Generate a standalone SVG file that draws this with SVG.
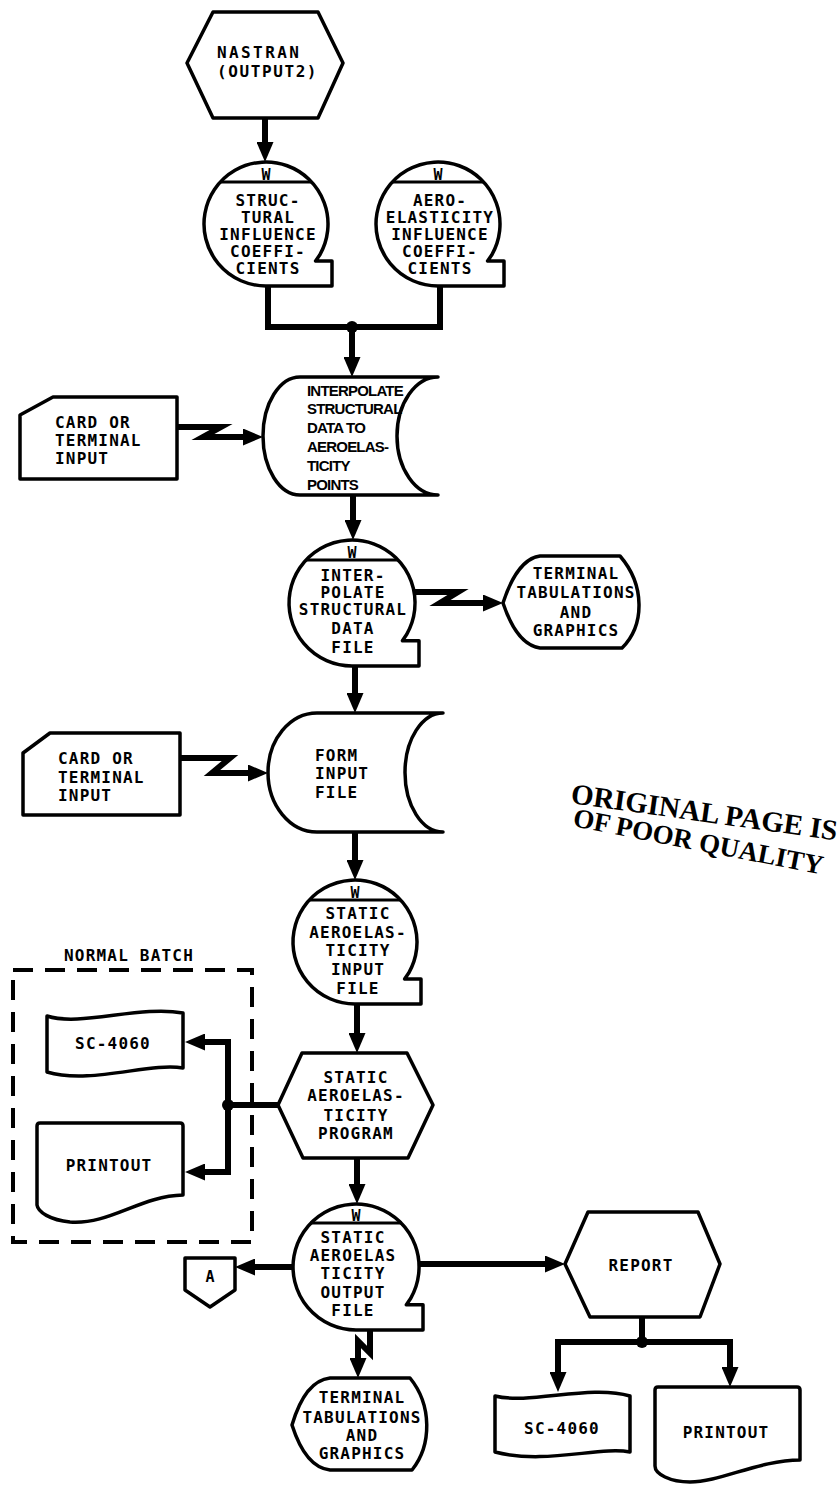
<svg xmlns="http://www.w3.org/2000/svg" width="839" height="1485" viewBox="0 0 839 1485">
<style>
.s{fill:#fff;stroke:#000;stroke-width:3.5;stroke-linejoin:round}
.c{fill:none;stroke:#000;stroke-width:6;stroke-linejoin:miter}
.d{fill:none;stroke:#000;stroke-width:4;stroke-dasharray:20 12}
.t{font-family:"DejaVu Sans Mono","Liberation Mono",monospace;font-weight:bold;font-size:16px;letter-spacing:1.2px;text-anchor:middle;fill:#000}
.tl{font-family:"DejaVu Sans Mono","Liberation Mono",monospace;font-weight:bold;font-size:16px;letter-spacing:1.2px;fill:#000}
.w{font-family:"DejaVu Sans Mono",monospace;font-weight:bold;font-size:15px;text-anchor:middle;fill:#000}
.n{font-family:"Liberation Sans",Arial,sans-serif;font-weight:bold;font-size:15px;letter-spacing:-0.8px;fill:#000}
.st{font-family:"Liberation Serif","Times New Roman",serif;font-weight:bold;fill:#000}
</style>
<defs>
<marker id="ah" viewBox="0 0 20 17" refX="12" refY="8.5" markerWidth="20" markerHeight="17" markerUnits="userSpaceOnUse" orient="auto">
<path d="M0,0 L20,8.5 L0,17 Z" fill="#000"/>
</marker>
</defs>
<rect width="839" height="1485" fill="#fff"/>

<g id="connectors">
<path class="c" d="M265,118 L265,154" marker-end="url(#ah)"/>
<path class="c" d="M268,286 L268,327 L440,327 L440,286"/>
<circle cx="352" cy="327" r="6" fill="#000"/>
<path class="c" d="M352,327 L352,369" marker-end="url(#ah)"/>
<path class="c" d="M177,427 L221,427 L203,437 L255,437" marker-end="url(#ah)"/>
<path class="c" d="M353,495 L353,532" marker-end="url(#ah)"/>
<path class="c" d="M414,592 L458,592 L440,603 L495,603" marker-end="url(#ah)"/>
<path class="c" d="M355,666 L355,705" marker-end="url(#ah)"/>
<path class="c" d="M180,758 L230,758 L212,773 L260,773" marker-end="url(#ah)"/>
<path class="c" d="M355,832 L355,872" marker-end="url(#ah)"/>
<path class="c" d="M357,1004 L357,1045" marker-end="url(#ah)"/>
<path class="c" d="M278,1105 L228,1105"/>
<circle cx="228" cy="1105" r="6" fill="#000"/>
<path class="c" d="M228,1105 L228,1042 L193,1042" marker-end="url(#ah)"/>
<path class="c" d="M228,1105 L228,1172 L193,1172" marker-end="url(#ah)"/>
<path class="c" d="M357,1158 L357,1196" marker-end="url(#ah)"/>
<path class="c" d="M293,1267 L243,1267" marker-end="url(#ah)"/>
<path class="c" d="M419,1264 L557,1264" marker-end="url(#ah)"/>
<path class="c" d="M642,1317 L642,1342"/>
<circle cx="642" cy="1342" r="6" fill="#000"/>
<path class="c" d="M642,1342 L558,1342 L558,1384" marker-end="url(#ah)"/>
<path class="c" d="M642,1342 L730,1342 L730,1379" marker-end="url(#ah)"/>
<path class="c" d="M370,1330 L370,1353 L358,1341 L358,1370" marker-end="url(#ah)"/>
</g>

<g id="nastran">
<polygon class="s" points="187,63 213,12 318,12 343,63 318,118 213,118"/>
<text class="tl" x="217" y="58" style="letter-spacing:2.4px">NASTRAN</text>
<text class="tl" x="217" y="77" style="letter-spacing:1.6px">(OUTPUT2)</text>
</g>

<g id="structural-coefficients">
<path class="s" d="M266,286 A62 62 0 1 1 319.7,255 L315.6,261 L332,261 L332,286 Z"/>
<line x1="220" y1="182" x2="312" y2="182" stroke="#000" stroke-width="3"/>
<text class="w" x="266" y="180">W</text>
<text class="t" x="268" y="206">STRUC-</text>
<text class="t" x="268" y="223">TURAL</text>
<text class="t" x="268" y="240">INFLUENCE</text>
<text class="t" x="268" y="257">COEFFI-</text>
<text class="t" x="268" y="274">CIENTS</text>
</g>

<g id="aeroelasticity-coefficients">
<path class="s" d="M438,286 A62 62 0 1 1 491.7,255 L487.6,261 L504,261 L504,286 Z"/>
<line x1="392" y1="182" x2="484" y2="182" stroke="#000" stroke-width="3"/>
<text class="w" x="438" y="180">W</text>
<text class="t" x="440" y="206">AERO-</text>
<text class="t" x="440" y="223">ELASTICITY</text>
<text class="t" x="440" y="240">INFLUENCE</text>
<text class="t" x="440" y="257">COEFFI-</text>
<text class="t" x="440" y="274">CIENTS</text>
</g>

<g id="card-input-1">
<path class="s" d="M20,415 L53,397 L177,397 L177,479 L20,479 Z"/>
<text class="tl" x="55" y="428">CARD OR</text>
<text class="tl" x="55" y="446">TERMINAL</text>
<text class="tl" x="55" y="464">INPUT</text>
</g>

<g id="interpolate">
<path class="s" d="M300,377 L438,377 A41 59 0 0 0 438,495 L300,495 A37 59 0 0 1 300,377 Z"/>
<text class="n" x="307" y="396">INTERPOLATE</text>
<text class="n" x="307" y="414">STRUCTURAL</text>
<text class="n" x="307" y="433">DATA TO</text>
<text class="n" x="307" y="452">AEROELAS-</text>
<text class="n" x="307" y="471">TICITY</text>
<text class="n" x="307" y="490">POINTS</text>
</g>

<g id="interpolated-data-file">
<path class="s" d="M352,666 A63 63 0 1 1 406.6,634.5 L402.4,640.8 L419,640.8 L419,666 Z"/>
<line x1="306" y1="560" x2="398" y2="560" stroke="#000" stroke-width="3"/>
<text class="w" x="352" y="558">W</text>
<text class="t" x="353" y="581">INTER-</text>
<text class="t" x="353" y="598">POLATE</text>
<text class="t" x="353" y="615">STRUCTURAL</text>
<text class="t" x="353" y="634">DATA</text>
<text class="t" x="353" y="653">FILE</text>
</g>

<g id="terminal-1">
<path class="s" d="M503,603 C512,575 525,558 540,556 L620,556 C645,585 645,625 622,648 L540,648 C525,646 512,630 503,603 Z"/>
<text class="t" x="576" y="579">TERMINAL</text>
<text class="t" x="576" y="598">TABULATIONS</text>
<text class="t" x="576" y="618">AND</text>
<text class="t" x="576" y="636">GRAPHICS</text>
</g>

<g id="card-input-2">
<path class="s" d="M23,753 L50,733 L180,733 L180,815 L23,815 Z"/>
<text class="tl" x="58" y="764">CARD OR</text>
<text class="tl" x="58" y="783">TERMINAL</text>
<text class="tl" x="58" y="801">INPUT</text>
</g>

<g id="form-input-file">
<path class="s" d="M317,713 L443,713 A38 59.5 0 0 0 443,832 L317,832 A49 59.5 0 0 1 317,713 Z"/>
<text class="tl" x="315" y="761">FORM</text>
<text class="tl" x="315" y="779">INPUT</text>
<text class="tl" x="315" y="798">FILE</text>
</g>

<g id="static-input-file">
<path class="s" d="M355,1004 A62 62 0 1 1 408.7,973 L404.6,979 L421,979 L421,1004 Z"/>
<line x1="309" y1="900" x2="401" y2="900" stroke="#000" stroke-width="3"/>
<text class="w" x="355" y="898">W</text>
<text class="t" x="358" y="919">STATIC</text>
<text class="t" x="358" y="938">AEROELAS-</text>
<text class="t" x="358" y="956">TICITY</text>
<text class="t" x="358" y="975">INPUT</text>
<text class="t" x="358" y="994">FILE</text>
</g>

<g id="normal-batch">
<rect class="d" x="13" y="970" width="239" height="272"/>
<text class="tl" x="64" y="961">NORMAL BATCH</text>
</g>

<g id="sc4060-batch">
<path class="s" d="M47,1016 C80,1027 140,1005 183,1013 L183,1068 C150,1062 90,1085 47,1072 Z"/>
<text class="t" x="113" y="1049">SC-4060</text>
</g>

<g id="printout-batch">
<path class="s" d="M37,1126 Q37,1123 40,1123 L180,1123 Q183,1123 183,1126 L183,1195 C140,1196 110,1225 70,1222 C50,1220 38,1212 37,1205 Z"/>
<text class="t" x="109" y="1171">PRINTOUT</text>
</g>

<g id="static-program">
<polygon class="s" points="278,1105 302,1053 407,1053 433,1105 408,1158 303,1158"/>
<text class="t" x="356" y="1083">STATIC</text>
<text class="t" x="356" y="1101">AEROELAS-</text>
<text class="t" x="356" y="1121">TICITY</text>
<text class="t" x="356" y="1139">PROGRAM</text>
</g>

<g id="static-output-file">
<path class="s" d="M356,1330 A63 63 0 1 1 410.6,1298.5 L406.4,1304.8 L423,1304.8 L423,1330 Z"/>
<line x1="310" y1="1223" x2="402" y2="1223" stroke="#000" stroke-width="3"/>
<text class="w" x="356" y="1221">W</text>
<text class="t" x="353" y="1243">STATIC</text>
<text class="t" x="353" y="1261">AEROELAS</text>
<text class="t" x="353" y="1279">TICITY</text>
<text class="t" x="353" y="1298">OUTPUT</text>
<text class="t" x="353" y="1316">FILE</text>
</g>

<g id="connector-a">
<polygon class="s" points="185,1258 235,1258 235,1290 210,1307 185,1290"/>
<text class="w" x="210" y="1282">A</text>
</g>

<g id="report">
<polygon class="s" points="565,1264 588,1212 698,1212 720,1264 700,1317 590,1317"/>
<text class="t" x="641" y="1271">REPORT</text>
</g>

<g id="terminal-2">
<path class="s" d="M292,1425 C300,1398 312,1380 330,1378 L410,1378 C432,1405 432,1445 412,1470 L330,1470 C312,1468 300,1450 292,1425 Z"/>
<text class="t" x="362" y="1403">TERMINAL</text>
<text class="t" x="362" y="1423">TABULATIONS</text>
<text class="t" x="362" y="1441">AND</text>
<text class="t" x="362" y="1459">GRAPHICS</text>
</g>

<g id="sc4060-report">
<path class="s" d="M495,1396 C530,1405 590,1384 630,1396 L630,1452 C600,1446 545,1465 495,1452 Z"/>
<text class="t" x="562" y="1434">SC-4060</text>
</g>

<g id="printout-report">
<path class="s" d="M655,1390 Q655,1387 658,1387 L797,1387 Q800,1387 800,1390 L800,1460 C760,1460 720,1482 690,1482 C670,1482 655,1474 655,1466 Z"/>
<text class="t" x="726" y="1438">PRINTOUT</text>
</g>

<g id="stamp">
<text class="st" font-size="29" transform="translate(570,803) rotate(8)">ORIGINAL PAGE IS</text>
<text class="st" font-size="27" transform="translate(572,826) rotate(11)">OF POOR QUALITY</text>
</g>
</svg>
